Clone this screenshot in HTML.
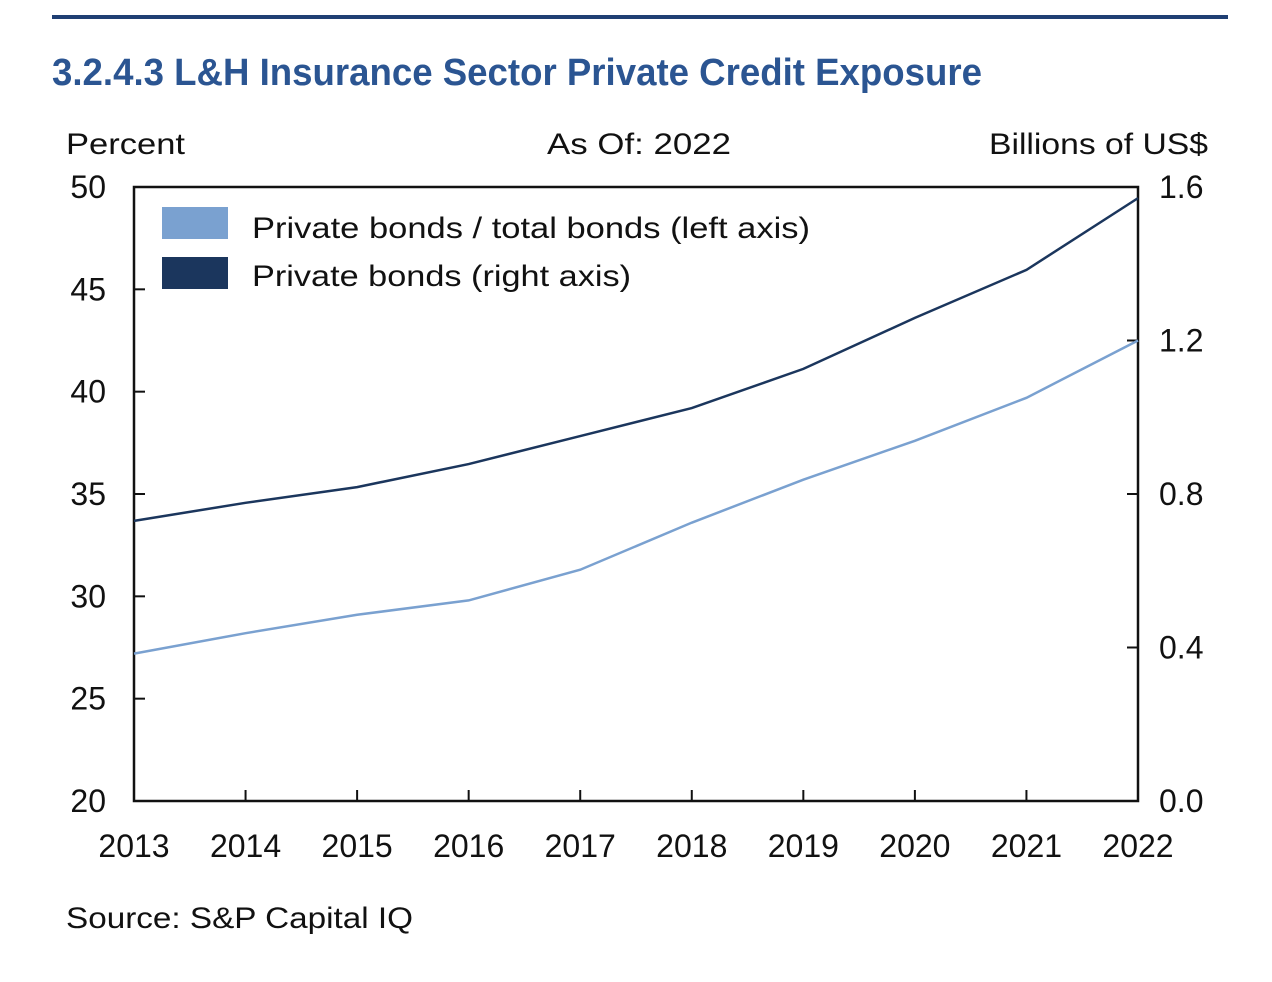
<!DOCTYPE html>
<html><head><meta charset="utf-8"><style>
html,body{margin:0;padding:0;background:#fff;}
svg{display:block;font-family:"Liberation Sans",sans-serif;}
</style></head><body>
<svg id="chart" width="1272" height="982" viewBox="0 0 1272 982">
<rect x="52" y="15" width="1176" height="4" fill="#1f3f73"/>
<text x="52" y="85" font-size="38" font-weight="bold" fill="#2b5592" textLength="930" lengthAdjust="spacingAndGlyphs">3.2.4.3 L&amp;H Insurance Sector Private Credit Exposure</text>
<text x="66" y="154" font-size="30" fill="#111" textLength="119" lengthAdjust="spacingAndGlyphs">Percent</text>
<text x="547" y="154" font-size="30" fill="#111" textLength="184" lengthAdjust="spacingAndGlyphs">As Of: 2022</text>
<text x="989" y="154" font-size="30" fill="#111" textLength="219" lengthAdjust="spacingAndGlyphs">Billions of US$</text>
<g id="plot"></g>
<rect x="162" y="207" width="66" height="32" fill="#7aa1d0"/>
<text x="252" y="238" font-size="30" fill="#111" textLength="558" lengthAdjust="spacingAndGlyphs">Private bonds / total bonds (left axis)</text>
<rect x="162" y="257" width="66" height="32" fill="#1b365d"/>
<text x="252" y="286" font-size="30" fill="#111" textLength="379" lengthAdjust="spacingAndGlyphs">Private bonds (right axis)</text>
<text x="66" y="928" font-size="30" fill="#111" textLength="347" lengthAdjust="spacingAndGlyphs">Source: S&amp;P Capital IQ</text>
</svg>
<script>
const years = ["2013","2014","2015","2016","2017","2018","2019","2020","2021","2022"];
const shareValues = [27.2,28.2,29.1,29.8,31.3,33.6,35.7,37.6,39.7,42.5];
const amountValues = [0.73,0.777,0.818,0.878,0.951,1.024,1.126,1.259,1.384,1.571];
const leftTicks = [20,25,30,35,40,45,50];
const rightTicks = [0.0,0.4,0.8,1.2,1.6];

const L=134,R=1138,T=187,B=801;
const NS="http://www.w3.org/2000/svg";
const g=document.getElementById('plot');
const xS=i=>L+(R-L)*i/(years.length-1);
const yL=v=>B-(v-20)/30*(B-T);
const yR=v=>B-v/1.6*(B-T);
function mk(t,a){const e=document.createElementNS(NS,t);for(const k in a)e.setAttribute(k,a[k]);g.appendChild(e);return e;}
const frame=mk('rect',{x:L,y:T,width:R-L,height:B-T,fill:'none',stroke:'#111','stroke-width':2.5});


leftTicks.forEach(v=>{
  const y=yL(v);
  const t=mk('line',{x1:L,x2:L+11,y1:y,y2:y,stroke:'#111','stroke-width':2});
  
  
  const tx=mk('text',{x:106,y:y+11,'font-size':32,fill:'#111','text-anchor':'end'});
  tx.textContent=v;
  
  
});
rightTicks.forEach(v=>{
  const y=yR(v);
  const t=mk('line',{x1:R-11,x2:R,y1:y,y2:y,stroke:'#111','stroke-width':2});
  
  
  const tx=mk('text',{x:1159,y:y+11,'font-size':32,fill:'#111'});
  tx.textContent=v.toFixed(1);
  
  
});
years.forEach((yr,i)=>{
  const x=xS(i);
  const t=mk('line',{x1:x,x2:x,y1:B-11,y2:B,stroke:'#111','stroke-width':2});
  
  
  const tx=mk('text',{x:x,y:857,'font-size':32,fill:'#111','text-anchor':'middle'});
  tx.textContent=yr;
  
  
});
const p1=mk('polyline',{points:shareValues.map((v,i)=>xS(i)+','+yL(v)).join(' '),fill:'none',stroke:'#7aa1d0','stroke-width':2.5});


const p2=mk('polyline',{points:amountValues.map((v,i)=>xS(i)+','+yR(v)).join(' '),fill:'none',stroke:'#1b365d','stroke-width':2.5});


</script>
</body></html>
